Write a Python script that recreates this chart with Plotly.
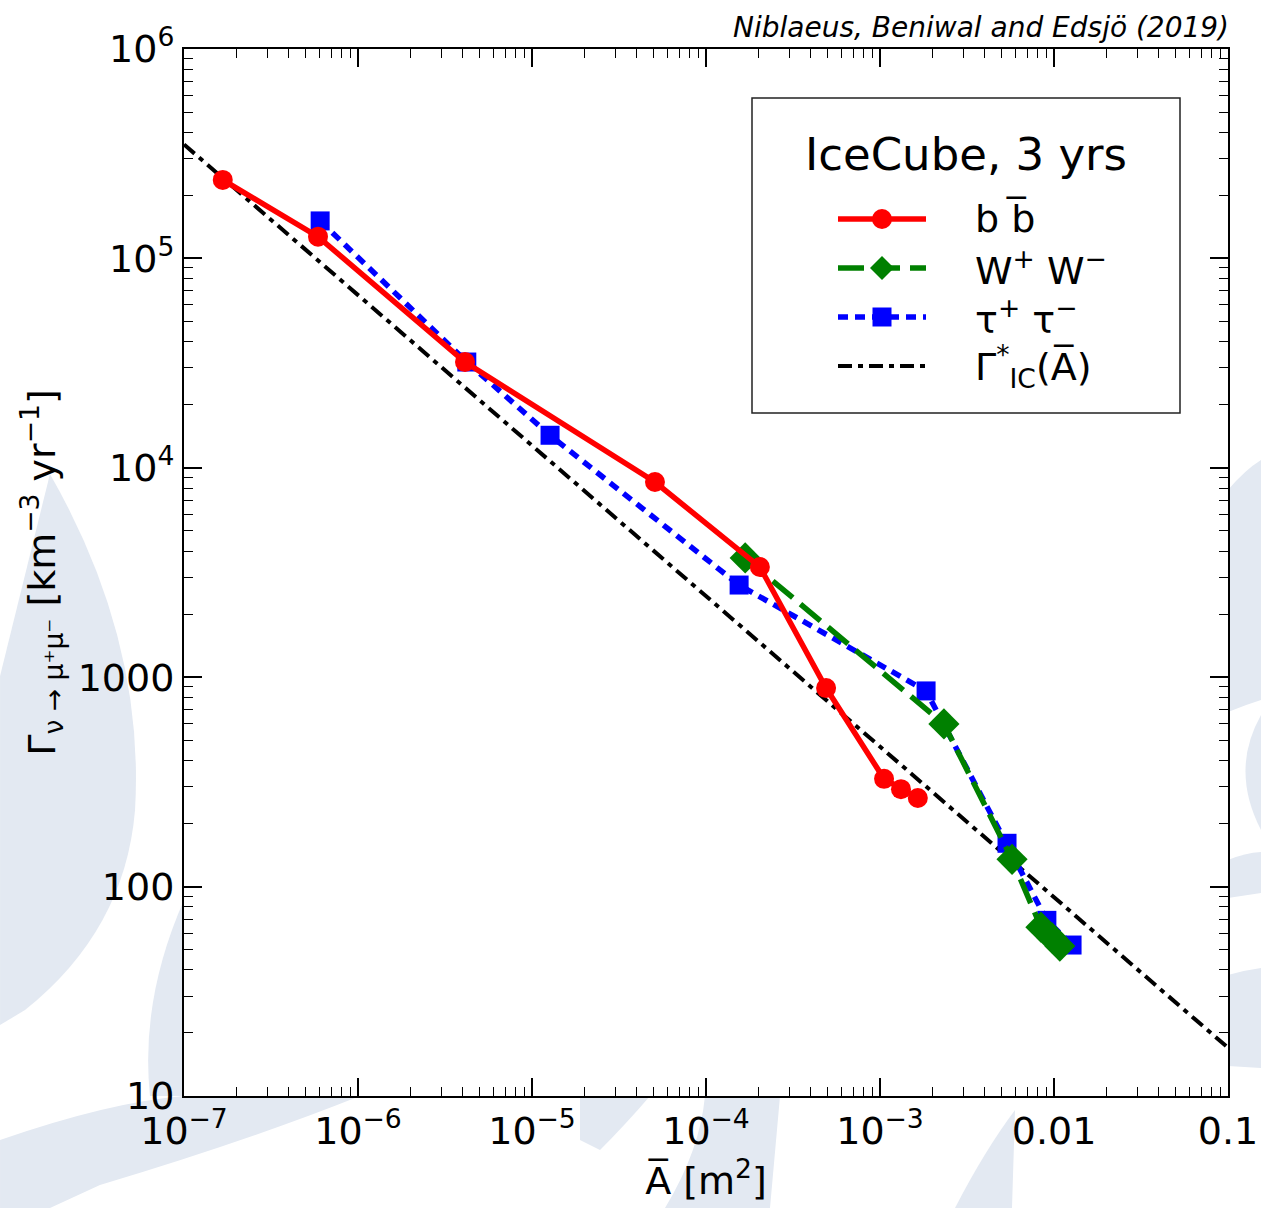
import plotly.graph_objects as go

# ---------------- data ----------------
bb_x = [1.67e-7, 5.89e-7, 4.12e-6, 5.09e-5, 2.04e-4, 4.9e-4, 1.055e-3, 1.32e-3, 1.65e-3]
bb_y = [2.37e5, 1.27e5, 3.2e4, 8550, 3360, 887, 327, 292, 265]

ww_x = [1.68e-4, 2.33e-3, 5.74e-3, 8.41e-3, 9.75e-3, 1.08e-2]
ww_y = [3710, 598, 135, 64, 56.9, 52]

tt_x = [6.06e-7, 4.22e-6, 1.27e-5, 1.55e-4, 1.84e-3, 5.37e-3, 9.1e-3, 1.27e-2]
tt_y = [1.51e5, 3.2e4, 1.43e4, 2755, 860, 161, 69, 52.6]

ic_x = [1e-7, 0.1]
ic_y = [3.5e5, 17]

x_tickvals = [1e-7, 1e-6, 1e-5, 1e-4, 1e-3, 1e-2, 1e-1]
x_ticktext = ["10<sup>−7</sup>", "10<sup>−6</sup>", "10<sup>−5</sup>", "10<sup>−4</sup>",
              "10<sup>−3</sup>", "0.01", "0.1"]
y_tickvals = [10, 100, 1000, 1e4, 1e5, 1e6]
y_ticktext = ["10", "100", "1000", "10<sup>4</sup>", "10<sup>5</sup>", "10<sup>6</sup>"]

names = ["b b\u0305", "W<sup>+</sup> W<sup>−</sup>", "τ<sup>+</sup> τ<sup>−</sup>",
         "Γ<sup>*</sup><sub>IC</sub>(A\u0305)"]
legend_title = "IceCube, 3 yrs"

FONT = "DejaVu Sans"
W, H = 1261, 1208
L, R, T, B = 184, 33, 49, 112
PW, PH = W - L - R, H - T - B


def px2paper(px, py):
    return (px - L) / PW, (H - B - py) / PH


# styles per series (same order as names)
styles = [
    dict(color="#ff0000", dash="solid", symbol="circle", msize=20, width=5.5),
    dict(color="#008000", dash="26px,10px", symbol="diamond", msize=24, width=5.5),
    dict(color="#0000ff", dash="10px,7px", symbol="square", msize=19, width=5.5),
    dict(color="black", dash="14px,6px,5px,6px", symbol=None, msize=0, width=4),
]

fig = go.Figure()

fig.add_trace(go.Scatter(x=ic_x, y=ic_y, mode="lines", name=names[3], showlegend=False,
                         line=dict(color="black", width=styles[3]["width"], dash=styles[3]["dash"])))
fig.add_trace(go.Scatter(x=tt_x, y=tt_y, mode="lines+markers", name=names[2], showlegend=False,
                         line=dict(color=styles[2]["color"], width=styles[2]["width"], dash=styles[2]["dash"]),
                         marker=dict(symbol="square", size=styles[2]["msize"], color=styles[2]["color"])))
fig.add_trace(go.Scatter(x=ww_x, y=ww_y, mode="lines+markers", name=names[1], showlegend=False,
                         line=dict(color=styles[1]["color"], width=styles[1]["width"], dash=styles[1]["dash"]),
                         marker=dict(symbol="diamond", size=styles[1]["msize"], color=styles[1]["color"])))
fig.add_trace(go.Scatter(x=bb_x, y=bb_y, mode="lines+markers", name=names[0], showlegend=False,
                         line=dict(color=styles[0]["color"], width=styles[0]["width"]),
                         marker=dict(symbol="circle", size=styles[0]["msize"], color=styles[0]["color"])))

# ---------------- watermark (decorative background) ----------------


def to_paper(pts):
    out = []
    for cmd in pts:
        if isinstance(cmd, str):
            out.append(cmd)
        else:
            x, y = px2paper(*cmd)
            out.append(f"{x:.4f},{y:.4f}")
    return " ".join(out)


wm = "#e3e9f2"
wm_paths = [
    ["M", (50, 474), "Q", (145, 640), (135, 810), "Q", (125, 930), (25, 1010), "L", (0, 1025), "L", (0, 676), "Z"],
    ["M", (0, 1208), "L", (0, 1140), "Q", (110, 1102), (184, 1096), "L", (360, 1096),
     "Q", (250, 1140), (100, 1185), "L", (50, 1208), "Z"],
    ["M", (184, 900), "L", (184, 1096), "L", (150, 1096), "Q", (140, 1000), (184, 900), "Z"],
    ["M", (705, 1096), "L", (780, 1096), "L", (770, 1208), "L", (665, 1208), "Q", (700, 1150), (705, 1096), "Z"],
    ["M", (580, 1096), "L", (650, 1096), "Q", (625, 1125), (600, 1150), "L", (580, 1140), "Z"],
    ["M", (1228, 490), "Q", (1245, 470), (1261, 460), "L", (1261, 700), "Q", (1245, 705), (1228, 712), "Z"],
    ["M", (1261, 715), "Q", (1230, 770), (1261, 830), "Z"],
    ["M", (1228, 860), "Q", (1245, 853), (1261, 852), "L", (1261, 893), "L", (1228, 898), "Z"],
    ["M", (1228, 975), "Q", (1245, 970), (1261, 968), "L", (1261, 1068), "L", (1228, 1066), "Z"],
    ["M", (955, 1208), "Q", (985, 1150), (1015, 1110), "L", (1012, 1208), "Z"],
]
shapes = []
for p in wm_paths:
    shapes.append(dict(type="path", xref="paper", yref="paper", path=to_paper(p),
                       fillcolor=wm, line=dict(width=0), layer="below"))
shapes.append(dict(type="rect", xref="paper", yref="paper", x0=0, x1=1, y0=0, y1=1,
                   fillcolor="white", line=dict(width=0), layer="below"))

# ---------------- legend (drawn by hand to match box geometry) ----------------
annotations = []
bx0, by0 = px2paper(752, 98)
bx1, by1 = px2paper(1180, 413)
shapes.append(dict(type="rect", xref="paper", yref="paper", x0=bx0, x1=bx1, y0=by1, y1=by0,
                   fillcolor="white", line=dict(color="#222", width=1.5), layer="above"))
tx, ty = px2paper(966, 155)
annotations.append(dict(text=legend_title, xref="paper", yref="paper", x=tx, y=ty,
                        xanchor="center", yanchor="middle", showarrow=False,
                        font=dict(family=FONT, size=45, color="black")))
row_y = [219, 268, 317, 366]
for i, (nm, st) in enumerate(zip(names, styles)):
    ya = px2paper(0, row_y[i])[1]
    xa0 = px2paper(838, 0)[0]
    xa1 = px2paper(926, 0)[0]
    xm = px2paper(882, 0)[0]
    shapes.append(dict(type="line", xref="paper", yref="paper", x0=xa0, x1=xa1, y0=ya, y1=ya,
                       line=dict(color=st["color"], width=st["width"], dash=st["dash"]), layer="above"))
    if st["symbol"] is not None:
        r = st["msize"] / 2
        if st["symbol"] == "circle":
            shapes.append(dict(type="circle", xref="paper", yref="paper", xsizemode="pixel",
                               ysizemode="pixel", xanchor=xm, yanchor=ya, x0=-r, x1=r, y0=-r, y1=r,
                               fillcolor=st["color"], line=dict(width=0), layer="above"))
        elif st["symbol"] == "square":
            shapes.append(dict(type="rect", xref="paper", yref="paper", xsizemode="pixel",
                               ysizemode="pixel", xanchor=xm, yanchor=ya, x0=-r, x1=r, y0=-r, y1=r,
                               fillcolor=st["color"], line=dict(width=0), layer="above"))
        else:
            shapes.append(dict(type="path", xref="paper", yref="paper", xsizemode="pixel",
                               ysizemode="pixel", xanchor=xm, yanchor=ya,
                               path=f"M {-r},0 L 0,{r} L {r},0 L 0,{-r} Z",
                               fillcolor=st["color"], line=dict(width=0), layer="above"))
    lx = px2paper(973, 0)[0]
    annotations.append(dict(text=nm, xref="paper", yref="paper", x=lx, y=ya,
                            xanchor="left", yanchor="middle", showarrow=False,
                            font=dict(family=FONT, size=38, color="black")))

annotations.append(dict(text="<i>Niblaeus, Beniwal and Edsjö (2019)</i>", xref="paper", yref="paper",
                        x=px2paper(1231, 0)[0], y=1.0, xanchor="right", yanchor="bottom", yshift=3,
                        showarrow=False, font=dict(family=FONT, size=28, color="black")))

axis_common = dict(
    type="log", showgrid=False, zeroline=False, showline=True, linecolor="black", linewidth=2,
    mirror="allticks", ticks="inside", ticklen=18, tickwidth=1.5, tickcolor="black",
    tickfont=dict(family=FONT, size=38, color="black"), automargin=False,
    minor=dict(ticks="inside", ticklen=9, tickwidth=1.2, tickcolor="black", dtick="D1", showgrid=False),
)

fig.update_xaxes(**axis_common, range=[-7, -1], tickvals=x_tickvals, ticktext=x_ticktext,
                 title=dict(text="A\u0305 [m<sup>2</sup>]", font=dict(family=FONT, size=38, color="black"),
                            standoff=8))
fig.update_yaxes(**axis_common, range=[1, 6], tickvals=y_tickvals, ticktext=y_ticktext,
                 title=dict(text="Γ<sub>ν → μ⁺μ⁻</sub> [km<sup>−3</sup> yr<sup>−1</sup>]",
                            font=dict(family=FONT, size=38, color="black"), standoff=10))

fig.update_layout(
    width=W, height=H,
    margin=dict(l=L, r=R, t=T, b=B, autoexpand=False),
    paper_bgcolor="white", plot_bgcolor="white",
    shapes=shapes, annotations=annotations,
    showlegend=False,
)

fig.write_html("out.html")
